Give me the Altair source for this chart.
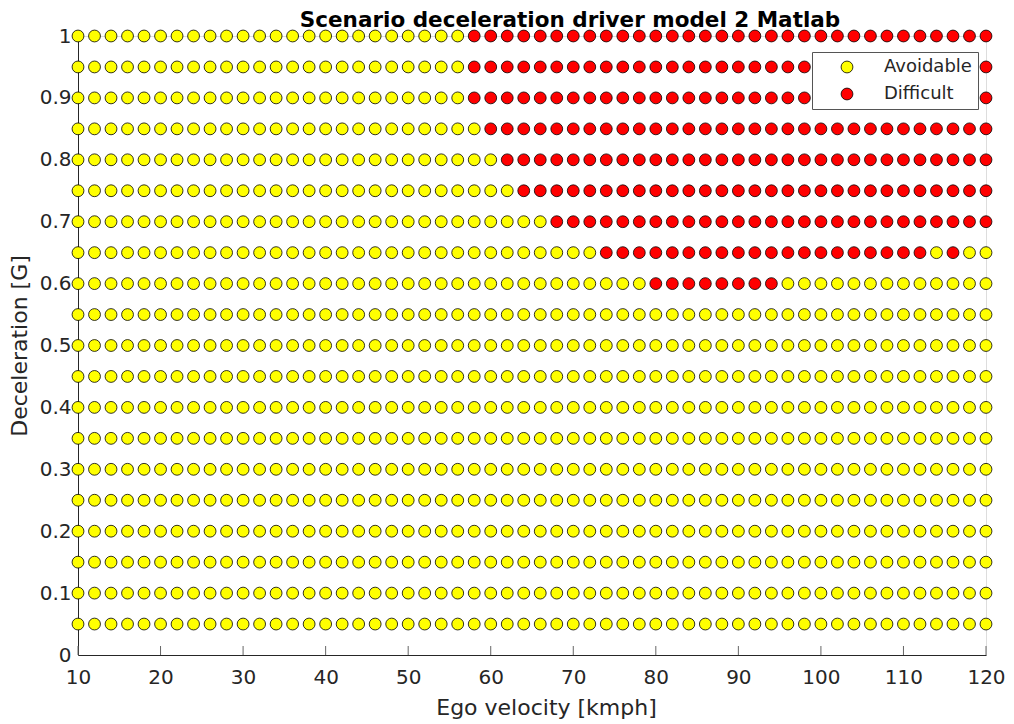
import altair as alt
import pandas as pd

# Grid of simulated scenarios
velocities = [10, 12, 14, 16, 18, 20, 22, 24, 26, 28, 30, 32, 34, 36, 38, 40,
              42, 44, 46, 48, 50, 52, 54, 56, 58, 60, 62, 64, 66, 68, 70, 72,
              74, 76, 78, 80, 82, 84, 86, 88, 90, 92, 94, 96, 98, 100, 102,
              104, 106, 108, 110, 112, 114, 116, 118, 120]
decelerations = [0.05, 0.10, 0.15, 0.20, 0.25, 0.30, 0.35, 0.40, 0.45, 0.50,
                 0.55, 0.60, 0.65, 0.70, 0.75, 0.80, 0.85, 0.90, 0.95, 1.00]

# Velocity ranges (inclusive) classified as "Difficult", per deceleration row
difficult_ranges = {
    1.00: [(58, 120)],
    0.95: [(58, 120)],
    0.90: [(58, 120)],
    0.85: [(60, 120)],
    0.80: [(62, 120)],
    0.75: [(64, 120)],
    0.70: [(68, 120)],
    0.65: [(74, 112), (116, 116)],
    0.60: [(80, 94)],
}

categories = ["Avoidable", "Difficult"]
category_colors = ["#ffff00", "#ff0000"]

x_ticks = [10, 20, 30, 40, 50, 60, 70, 80, 90, 100, 110, 120]
y_ticks = [0, 0.1, 0.2, 0.3, 0.4, 0.5, 0.6, 0.7, 0.8, 0.9, 1.0]

rows = []
for d in decelerations:
    ranges = difficult_ranges.get(round(d, 2), [])
    for v in velocities:
        diff = any(a <= v <= b for a, b in ranges)
        rows.append({"v": v, "d": d, "cls": categories[1] if diff else categories[0]})
df = pd.DataFrame(rows)
tick_df = pd.DataFrame({"t": x_ticks})

FONT = "DejaVu Sans"
AX = "#262626"

xscale = alt.Scale(domain=[10, 120], nice=False, zero=False)
yscale = alt.Scale(domain=[0, 1], nice=False, zero=False)

points = alt.Chart(df).mark_circle(
    size=140, stroke="black", strokeWidth=0.8, opacity=1, clip=False
).encode(
    x=alt.X("v:Q", scale=xscale, axis=alt.Axis(
        values=x_ticks, title="Ego velocity [kmph]", tickSize=0, labelPadding=12,
        grid=False, domainColor=AX, labelColor=AX, titleColor=AX,
        labelFontSize=20, titleFontSize=22, titleFontWeight="normal",
        labelFont=FONT, titleFont=FONT, titlePadding=10, titleX=468,
        labelFlush=False)),
    y=alt.Y("d:Q", scale=yscale, axis=alt.Axis(
        values=y_ticks, format=".1~f", title="Deceleration [G]", tickSize=0,
        labelPadding=7, grid=False, domainColor=AX, labelColor=AX, titleColor=AX,
        labelFontSize=20, titleFontSize=22, titleFontWeight="normal",
        labelFont=FONT, titleFont=FONT, titlePadding=8, labelFlush=False)),
    fill=alt.Fill("cls:N", scale=alt.Scale(domain=categories, range=category_colors),
                  legend=alt.Legend(
                      title=None, orient="none", legendX=734, legendY=16,
                      fillColor="white", strokeColor="#555555", padding=6,
                      symbolOffset=20, labelOffset=28, rowPadding=9,
                      symbolType="circle", symbolSize=140,
                      symbolStrokeColor="black", symbolStrokeWidth=0.8,
                      labelFontSize=18, labelFont=FONT, labelColor=AX,
                      cornerRadius=0)),
)

ticks = alt.Chart(tick_df).mark_rule(color="#666666", strokeWidth=1).encode(
    x=alt.X("t:Q", scale=xscale),
    y=alt.value(619), y2=alt.value(610),
)

chart = alt.layer(points, ticks).properties(
    width=908, height=619,
    title=alt.TitleParams("Scenario deceleration driver model 2 Matlab",
                          fontSize=21.5, fontWeight="bold", font=FONT, color="black",
                          anchor="middle", dx=38, dy=24, offset=2, baseline="alphabetic"),
    autosize="none",
    padding={"left": 78, "top": 36, "right": 28, "bottom": 69},
).configure_view(stroke=None).configure(background="white")

chart.save("out.html", embed_options={"renderer": "svg", "actions": False})
